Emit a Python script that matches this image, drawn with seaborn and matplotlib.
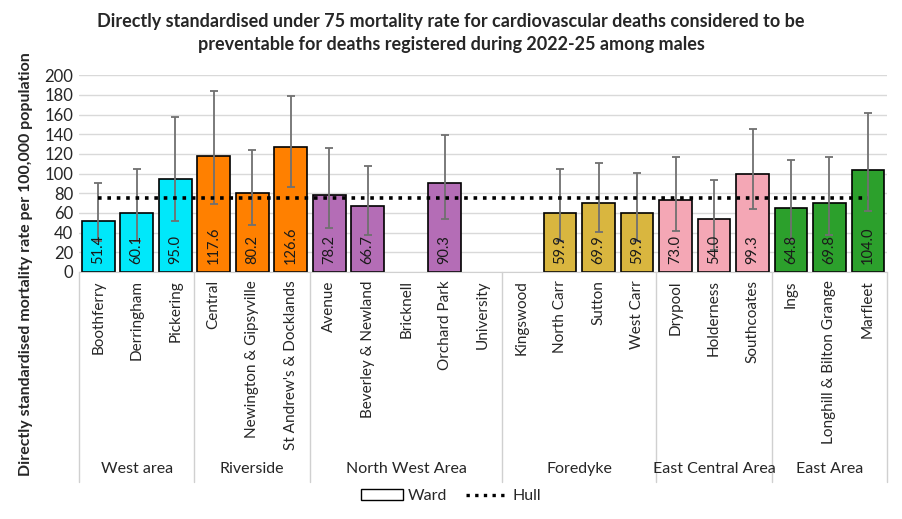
import matplotlib
matplotlib.use("Agg")
import matplotlib.pyplot as plt
import numpy as np
import pandas as pd
import seaborn as sns
from matplotlib.lines import Line2D
from matplotlib.patches import Patch

# data
wards = ["Boothferry", "Derringham", "Pickering",
         "Central", "Newington & Gipsyville", "St Andrew's & Docklands",
         "Avenue", "Beverley & Newland", "Bricknell", "Orchard Park", "University",
         "Kingswood", "North Carr", "Sutton", "West Carr",
         "Drypool", "Holderness", "Southcoates",
         "Ings", "Longhill & Bilton Grange", "Marfleet"]
areas = ["West area"] * 3 + ["Riverside"] * 3 + ["North West Area"] * 5 + \
        ["Foredyke"] * 4 + ["East Central Area"] * 3 + ["East Area"] * 3
rate = [51.4, 60.1, 95.0,
        117.6, 80.2, 126.6,
        78.2, 66.7, np.nan, 90.3, np.nan,
        np.nan, 59.9, 69.9, 59.9,
        73.0, 54.0, 99.3,
        64.8, 69.8, 104.0]
lower_ci = [31.0, 31.5, 51.7,
            69.3, 48.0, 86.1,
            44.6, 37.5, np.nan, 54.0, np.nan,
            np.nan, 31.0, 40.5, 31.8,
            41.2, 22.0, 64.2,
            32.4, 37.5, 62.2]
upper_ci = [90.5, 104.4, 158.0,
            184.0, 124.3, 178.4,
            126.4, 108.1, np.nan, 139.2, np.nan,
            np.nan, 105.0, 111.0, 100.3,
            117.2, 94.0, 145.3,
            114.2, 116.6, 161.5]
hull = 75.0
area_colours = {"West area": "#00E8FA", "Riverside": "#FF8000",
                "North West Area": "#B46DB6", "Foredyke": "#D9B63F",
                "East Central Area": "#F4A7B5", "East Area": "#2CA02C"}

df = pd.DataFrame({"Ward": wards, "Area": areas, "Rate": rate,
                   "Lower": lower_ci, "Upper": upper_ci})
df["Hull"] = hull

sns.set_style("white")
plt.rcParams["font.family"] = ["Lato", "DejaVu Sans"]

fig = plt.figure(figsize=(9.02, 5.19), dpi=100)
ax = fig.add_axes([0.0876, 0.476, 0.896, 0.379])

sns.barplot(data=df, x="Ward", y="Rate", hue="Area", palette=area_colours,
            dodge=False, width=0.85, saturation=1, edgecolor="black", linewidth=1.2,
            legend=False, ax=ax, zorder=2)

pos = np.arange(len(df))
ax.errorbar(pos, df["Rate"], yerr=[df["Rate"] - df["Lower"], df["Upper"] - df["Rate"]],
            fmt="none", ecolor="#707070", elinewidth=1.3, capsize=3, capthick=1.3, zorder=4)

sns.lineplot(data=df, x="Ward", y="Hull", color="black", linestyle=(0, (1, 1.6)),
             linewidth=2.6, ax=ax, zorder=5)

for i, v in enumerate(df["Rate"]):
    if not np.isnan(v):
        ax.text(i, 8, f"{v:.1f}", rotation=90, ha="center", va="bottom",
                fontsize=10.5, color="#1a1a1a", zorder=6)

ax.set_ylim(0, 200)
ax.set_xlim(-0.5, len(df) - 0.5)
ax.set_yticks(range(0, 201, 20))
ax.yaxis.grid(True, color="#d9d9d9", linewidth=1)
ax.set_axisbelow(True)
for s in ["top", "right", "left"]:
    ax.spines[s].set_visible(False)
ax.spines["bottom"].set_color("#d0d0d0")
ax.tick_params(axis="y", labelsize=12, length=0, pad=4)
ax.tick_params(axis="x", length=0, pad=6)
ax.set_xticks(pos)
ax.set_xticklabels(wards, rotation=90, fontsize=11, va="top")
ax.set_xlabel("")
ax.set_ylabel("Directly standardised mortality rate per 100,000 population",
              fontsize=11.5, fontweight="bold", labelpad=6)
ax.yaxis.set_label_coords(-0.057, 0.04)

# area group separators and labels below the ward names
bounds = [-0.5]
for i in range(1, len(areas)):
    if areas[i] != areas[i - 1]:
        bounds.append(i - 0.5)
bounds.append(len(areas) - 0.5)
trans = ax.get_xaxis_transform()
for b in bounds:
    ax.add_line(Line2D([b, b], [0, -1.07], transform=trans, color="#d0d0d0",
                       linewidth=1, clip_on=False))
for a, b in zip(bounds[:-1], bounds[1:]):
    ax.text((a + b) / 2, -1.0, areas[int(a + 0.5)], transform=trans,
            ha="center", va="center", fontsize=11.5)

fig.suptitle("Directly standardised under 75 mortality rate for cardiovascular deaths considered to be\n"
             "preventable for deaths registered during 2022-25 among males",
             x=0.5, y=0.975, fontsize=13, fontweight="bold", linespacing=1.4)

handles = [Patch(facecolor="white", edgecolor="black", linewidth=1),
           Line2D([0], [0], color="black", linestyle=(0, (1, 1.6)), linewidth=2.4)]
fig.legend(handles, ["Ward", "Hull"], loc="center", bbox_to_anchor=(0.5, 0.044),
           ncol=2, frameon=False, fontsize=11.5, handlelength=2.6,
           handletextpad=0.3, columnspacing=1.2)

fig.savefig("out.png", dpi=100)
